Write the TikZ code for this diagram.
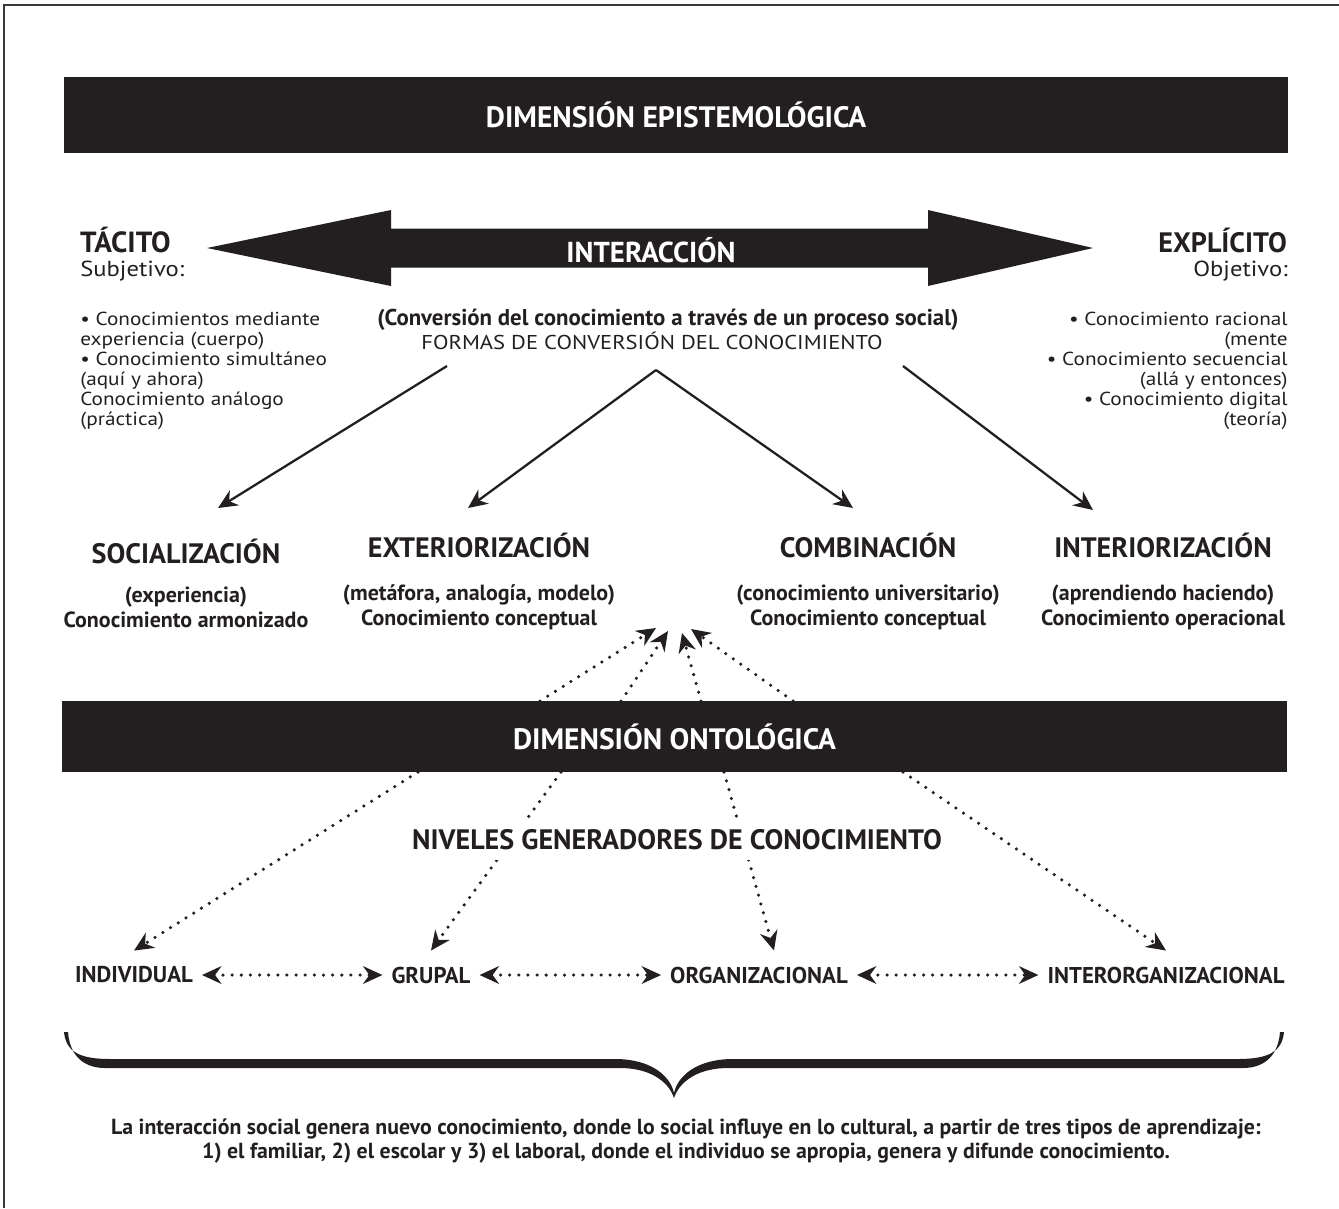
\documentclass[tikz,border=0pt]{standalone}
\usepackage{fontspec}
\setmainfont{PT Sans}
\newfontfamily\widesans{PT Sans}[FakeStretch=1.13]
\usepackage{tikz}
\usetikzlibrary{calc,arrows.meta}
\definecolor{ink}{HTML}{231F20}
\definecolor{rim}{HTML}{3A3A3A}
\tikzset{
  edge/.style={draw=rim, line width=0.05cm},
  bar/.style={fill=ink, text=white, font=\bfseries\fontsize{16.8}{18}\selectfont,
    minimum width=24.5cm, minimum height=1.52cm, inner sep=0pt},
  head/.style={text=ink, font=\bfseries\fontsize{16}{18}\selectfont, inner sep=1pt},
  sub/.style={text=ink, font=\bfseries\fontsize{12.5}{14.2}\selectfont, align=center, inner sep=1pt},
  body/.style={text=ink, font=\widesans\fontsize{10.7}{11.4}\selectfont, inner sep=0pt},
  level/.style={text=ink, font=\bfseries\fontsize{13}{14}\selectfont, inner xsep=5pt, inner ysep=9pt},
  note/.style={text=ink, font=\bfseries\fontsize{12.4}{13.7}\selectfont, align=center},
  tip/.style={-{Stealth[length=11pt, width=10pt]}},
  conv/.style={draw=ink, line width=1.3pt, tip},
  dots/.style={draw=ink, line width=2pt, line cap=round, dash pattern=on 0pt off 5.2pt, tip},
  dots2/.style={dots, {Stealth[length=11pt, width=10pt]}-{Stealth[length=11pt, width=10pt]}},
}

\begin{document}
\begin{tikzpicture}[x=0.02cm, y=-0.02cm]
  \useasboundingbox (0,0) rectangle (1339,1208);
  \draw[edge] (1339,5) -- (4,5) -- (4,1208);

  % bars
  \node[bar] (epis) at (676,115) {DIMENSIÓN EPISTEMOLÓGICA};
  \node[bar, minimum height=1.42cm] (onto) at (674.5,736.5) {DIMENSIÓN ONTOLÓGICA};

  % double arrow
  \fill[ink] (207,248) -- (391,210) -- (391,228.5) -- (928,228.5) -- (928,210) -- (1093,248)
    -- (928,286) -- (928,267.5) -- (391,267.5) -- (391,286) -- cycle;
  \node[head, text=white, font=\bfseries\fontsize{16.4}{18}\selectfont] (interac) at (651,250) {INTERACCIÓN};

  % tacit / explicit
  \node[head, anchor=west, font=\bfseries\fontsize{16.6}{18}\selectfont] (tacito) at (78,240) {TÁCITO};
  \node[body, anchor=west, font=\widesans\fontsize{12.4}{14}\selectfont] (subj) at (80,271) {Subjetivo:};
  \node[body, anchor=west, align=left] (tacitolist) at (80,371)
    {• Conocimientos mediante\\experiencia (cuerpo)\\• Conocimiento simultáneo\\(aquí y ahora)\\Conocimiento análogo\\(práctica)};
  \node[head, anchor=east] (explicito) at (1289,240) {EXPLÍCITO};
  \node[body, anchor=east, font=\widesans\fontsize{12.4}{14}\selectfont] (obj) at (1288,271) {Objetivo:};
  \node[body, anchor=east, align=right] (explicitolist) at (1288,371)
    {• Conocimiento racional\\(mente\\• Conocimiento secuencial\\(allá y entonces)\\• Conocimiento digital\\(teoría)};

  \node[body, font=\bfseries\fontsize{13}{14}\selectfont] (proceso) at (668,320)
    {(Conversión del conocimiento a través de un proceso social)};
  \node[body, font=\widesans\fontsize{11.4}{14}\selectfont] (formas) at (652,341) {FORMAS DE CONVERSIÓN DEL CONOCIMIENTO};

  % conversion modes
  \node[head] (soc) at (186,551) {SOCIALIZACIÓN};
  \node[head] (ext) at (479,545) {EXTERIORIZACIÓN};
  \node[head] (comb) at (868,545) {COMBINACIÓN};
  \node[head] (intr) at (1163,545) {INTERIORIZACIÓN};
  \node[sub] (socsub) at (186,607) {(experiencia)\\Conocimiento armonizado};
  \node[sub] (extsub) at (479,607) {(metáfora, analogía, modelo)\\Conocimiento conceptual};
  \node[sub] (combsub) at (868,607) {(conocimiento universitario)\\Conocimiento conceptual};
  \node[sub] (intrsub) at (1163,607) {(aprendiendo haciendo)\\Conocimiento operacional};

  \coordinate (fromL) at (447,366);
  \coordinate (fromM) at (656,370);
  \coordinate (fromR) at (903,366);
  \coordinate (toSoc) at (218,508);
  \coordinate (toExt) at (468,508);
  \coordinate (toComb) at (853,508);
  \coordinate (toIntr) at (1093,510);
  \draw[conv] (fromL) -- (toSoc);
  \draw[conv] (fromM) -- (toExt);
  \draw[conv] (fromM) -- (toComb);
  \draw[conv] (fromR) -- (toIntr);

  % levels
  \node[level] (indiv) at (134,975) {INDIVIDUAL};
  \node[level] (grupal) at (431,975) {GRUPAL};
  \node[level] (organ) at (759,975) {ORGANIZACIONAL};
  \node[level] (interorg) at (1166,975) {INTERORGANIZACIONAL};
  \draw[dots2] (indiv) -- (grupal);
  \draw[dots2] (grupal) -- (organ);
  \draw[dots2] (organ) -- (interorg);

  % dotted arrows up to the conversion modes
  \coordinate (up1) at (540,701);
  \coordinate (up2) at (621,701);
  \coordinate (up3) at (701,701);
  \coordinate (up4) at (793,701);
  \draw[dots] (up1) -- (656,628);
  \draw[dots] (up2) -- (668,631);
  \draw[dots] (up3) -- (682,633);
  \draw[dots] (up4) -- (691,629);

  % dotted arrows down to the levels
  \coordinate (dn1) at (418,772);
  \coordinate (dn2) at (561,772);
  \coordinate (dn3) at (724,772);
  \coordinate (dn4) at (903,772);
  \draw[dots] (dn1) -- (indiv.north);
  \draw[dots] (dn2) -- (grupal.north);
  \draw[dots] (dn3) -- ($(organ.north)+(15,0)$);
  \draw[dots] (dn4) -- (interorg.north);

  \node[head, fill=white, inner sep=0.2cm] (niveles) at (677,840) {NIVELES GENERADORES DE CONOCIMIENTO};

  % brace
  \fill[ink] (64,1032) .. controls (66,1052) and (80,1059) .. (110,1059) -- (615,1059)
    .. controls (650,1059) and (670,1075) .. (674,1093)
    .. controls (678,1075) and (698,1059) .. (733,1059) -- (1238,1059)
    .. controls (1268,1059) and (1282,1052) .. (1284,1032)
    -- (1280,1032) .. controls (1278,1058) and (1262,1068) .. (1243,1068) -- (728,1068)
    .. controls (700,1068) and (680,1080) .. (674,1098)
    .. controls (668,1080) and (648,1068) .. (620,1068) -- (105,1068)
    .. controls (86,1068) and (70,1058) .. (68,1032) -- cycle;

  \node[note] (nota) at (686,1141)
    {La interacción social genera nuevo conocimiento, donde lo social influye en lo cultural, a partir de tres tipos de aprendizaje:\\
     1) el familiar, 2) el escolar y 3) el laboral, donde el individuo se apropia, genera y difunde conocimiento.};
\end{tikzpicture}
\end{document}
